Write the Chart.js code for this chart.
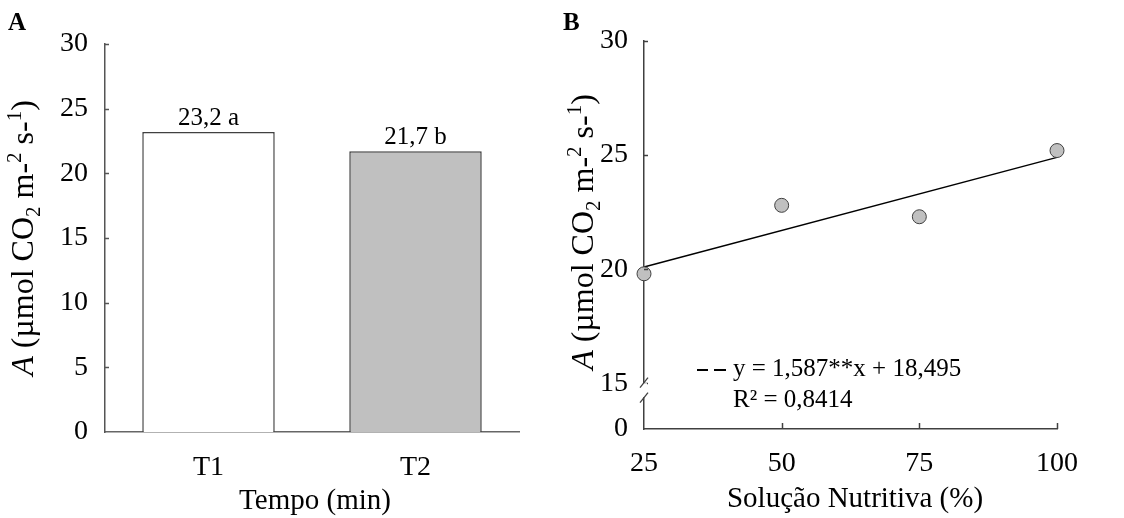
<!DOCTYPE html>
<html>
<head>
<meta charset="utf-8">
<script src="https://cdn.jsdelivr.net/npm/chart.js@4.4.1/dist/chart.umd.min.js"></script>
<style>
  html, body { margin: 0; padding: 0; background: #fff; }
  #wrap { position: relative; width: 1124px; height: 518px; overflow: hidden; }
  .box { position: absolute; top: 0; }
  #boxA { left: 0; }
  #boxB { left: 560px; }
</style>
</head>
<body>
<div id="wrap">
  <div class="box" id="boxA"><canvas id="chartA" width="560" height="518"></canvas></div>
  <div class="box" id="boxB"><canvas id="chartB" width="564" height="518"></canvas></div>
</div>
<script>
// Painel A - tempo
const tempoLabels = ['T1', 'T2'];
const tempoValues = [23.2, 21.7];
const tempoLetters = ['a', 'b'];
const yTicksA = [0, 5, 10, 15, 20, 25, 30];

// Painel B - solução nutritiva
const solucaoX = [25, 50, 75, 100];
const solucaoY = [19.8, 22.8, 22.3, 25.2];
const trendX = [25, 100];
const trendY = [20.1, 24.9];
const xTicksB = [25, 50, 75, 100];
const yTicksB = [13, 15, 20, 25, 30];
const yTickLabelsB = ['0', '15', '20', '25', '30'];
const equationText = 'y = 1,587**x + 18,495';
const r2Text = 'R² = 0,8414';

const serif = "'Liberation Serif', 'Times New Roman', serif";
Chart.defaults.font.family = serif;
Chart.defaults.color = '#000';

function formatNumber(num) {
  return num.toFixed(1).replace('.', ',');
}

// título do eixo y com itálico, subscrito e sobrescrito
function drawYTitle(ctx, baseX, centerY, size) {
  const parts = [
    { t: 'A', italic: true },
    { t: ' (µmol CO' },
    { t: '2', sub: true },
    { t: ' m-' },
    { t: '2', sup: true },
    { t: ' s-' },
    { t: '1', sup: true },
    { t: ')' }
  ];
  const fontFor = p => {
    const s = (p.sub || p.sup) ? Math.round(size * 0.65) : size;
    return (p.italic ? 'italic ' : '') + s + 'px ' + serif;
  };
  let total = 0;
  parts.forEach(p => { ctx.font = fontFor(p); p.w = ctx.measureText(p.t).width; total += p.w; });
  ctx.save();
  ctx.translate(baseX, centerY);
  ctx.rotate(-Math.PI / 2);
  ctx.fillStyle = '#000';
  ctx.textBaseline = 'alphabetic';
  ctx.textAlign = 'left';
  let x = -total / 2;
  parts.forEach(p => {
    ctx.font = fontFor(p);
    let dy = 0;
    if (p.sub) dy = size * 0.22;
    if (p.sup) dy = -size * 0.38;
    ctx.fillText(p.t, x, dy);
    x += p.w;
  });
  ctx.restore();
}

const panelA = {
  id: 'panelA',
  afterDraw(chart) {
    const ctx = chart.ctx;
    const area = chart.chartArea;
    const y = chart.scales.y;
    ctx.save();
    // marcas dos ticks para dentro
    ctx.strokeStyle = '#555';
    ctx.lineWidth = 1.5;
    yTicksA.forEach(v => {
      if (v === 0) return;
      const py = Math.round(y.getPixelForValue(v)) + 0.5;
      ctx.beginPath();
      ctx.moveTo(area.left, py);
      ctx.lineTo(area.left + 4, py);
      ctx.stroke();
    });
    // rótulos das barras
    const meta = chart.getDatasetMeta(0);
    ctx.fillStyle = '#000';
    ctx.font = '25px ' + serif;
    ctx.textAlign = 'center';
    ctx.textBaseline = 'alphabetic';
    meta.data.forEach((bar, i) => {
      ctx.fillText(formatNumber(tempoValues[i]) + ' ' + tempoLetters[i], bar.x, bar.y - 7);
    });
    // título do eixo x
    ctx.font = '29px ' + serif;
    ctx.fillText('Tempo (min)', 315, 509);
    // letra do painel
    ctx.font = 'bold 25px ' + serif;
    ctx.textAlign = 'left';
    ctx.fillText('A', 8, 30);
    ctx.restore();
    drawYTitle(ctx, 33, 238, 32);
  }
};

const panelB = {
  id: 'panelB',
  afterDraw(chart) {
    const ctx = chart.ctx;
    const area = chart.chartArea;
    const x = chart.scales.x;
    const y = chart.scales.y;
    ctx.save();
    ctx.strokeStyle = '#404040';
    ctx.lineWidth = 1.5;
    // ticks para dentro
    yTicksB.forEach(v => {
      if (v === yTicksB[0]) return;
      const py = Math.round(y.getPixelForValue(v)) + 0.5;
      ctx.beginPath();
      ctx.moveTo(area.left, py);
      ctx.lineTo(area.left + 4, py);
      ctx.stroke();
    });
    xTicksB.forEach(v => {
      if (v === xTicksB[0]) return;
      const px = Math.round(x.getPixelForValue(v)) + 0.5;
      ctx.beginPath();
      ctx.moveTo(px, area.bottom);
      ctx.lineTo(px, area.bottom - 6);
      ctx.stroke();
    });
    // quebra do eixo y
    const breakY = y.getPixelForValue(14.7);
    ctx.fillStyle = '#fff';
    ctx.fillRect(area.left - 3, breakY - 7, 6, 14);
    ctx.lineWidth = 1.3;
    [-7.5, 7.5].forEach(off => {
      ctx.beginPath();
      ctx.moveTo(area.left - 4, breakY + off + 5);
      ctx.lineTo(area.left + 4, breakY + off - 5);
      ctx.stroke();
    });
    // legenda da regressão
    ctx.lineWidth = 2;
    ctx.strokeStyle = '#000';
    [[137, 148], [154, 166]].forEach(seg => {
      ctx.beginPath();
      ctx.moveTo(seg[0], 370);
      ctx.lineTo(seg[1], 370);
      ctx.stroke();
    });
    ctx.fillStyle = '#000';
    ctx.font = '25px ' + serif;
    ctx.textAlign = 'left';
    ctx.textBaseline = 'alphabetic';
    ctx.fillText(equationText, 173, 376);
    ctx.fillText(r2Text, 173, 407);
    // título do eixo x
    ctx.font = '29px ' + serif;
    ctx.textAlign = 'center';
    ctx.fillText('Solução Nutritiva (%)', 295, 507);
    // letra do painel
    ctx.font = 'bold 25px ' + serif;
    ctx.textAlign = 'left';
    ctx.fillText('B', 3, 30);
    ctx.restore();
    drawYTitle(ctx, 33, 232, 32);
  }
};

new Chart(document.getElementById('chartA'), {
  type: 'bar',
  data: {
    labels: tempoLabels,
    datasets: [{
      data: tempoValues,
      backgroundColor: ['#ffffff', '#c0c0c0'],
      borderColor: '#404040',
      borderWidth: 1.5,
      barPercentage: 0.64,
      categoryPercentage: 1
    }]
  },
  options: {
    responsive: false,
    animation: false,
    layout: { padding: { top: 44, right: 41, left: 0, bottom: 0 } },
    plugins: { legend: { display: false }, tooltip: { enabled: false } },
    scales: {
      x: {
        grid: { display: false, drawTicks: false },
        border: { color: '#666', width: 1.5 },
        ticks: { font: { size: 28 }, padding: 19, color: '#000' },
        afterFit: s => { s.height = 86; }
      },
      y: {
        min: 0,
        max: 30,
        afterBuildTicks: s => { s.ticks = yTicksA.map(v => ({ value: v })); },
        grid: { display: false, drawTicks: false },
        border: { color: '#555', width: 1.5 },
        ticks: { font: { size: 28 }, padding: 17, color: '#000' },
        afterFit: s => { s.width = 105; }
      }
    }
  },
  plugins: [panelA]
});

new Chart(document.getElementById('chartB'), {
  type: 'scatter',
  data: {
    datasets: [{
      data: solucaoX.map((v, i) => ({ x: v, y: solucaoY[i] })),
      pointRadius: 7,
      pointBackgroundColor: '#c0c0c0',
      pointBorderColor: '#404040',
      pointBorderWidth: 1,
      clip: false,
      order: 0
    }, {
      data: trendX.map((v, i) => ({ x: v, y: trendY[i] })),
      showLine: true,
      borderColor: '#000',
      borderWidth: 1.5,
      pointRadius: 0,
      clip: false,
      order: 1
    }]
  },
  options: {
    responsive: false,
    animation: false,
    layout: { padding: { top: 41, right: 67, left: 0, bottom: 0 } },
    plugins: { legend: { display: false }, tooltip: { enabled: false } },
    scales: {
      x: {
        type: 'linear',
        min: 25,
        max: 100,
        afterBuildTicks: s => { s.ticks = xTicksB.map(v => ({ value: v })); },
        grid: { display: false, drawTicks: false },
        border: { color: '#404040', width: 1.5 },
        ticks: { font: { size: 28 }, padding: 18, color: '#000' },
        afterFit: s => { s.height = 89; }
      },
      y: {
        min: 13,
        max: 30,
        afterBuildTicks: s => { s.ticks = yTicksB.map(v => ({ value: v })); },
        grid: { display: false, drawTicks: false },
        border: { color: '#404040', width: 1.5 },
        ticks: {
          font: { size: 28 },
          padding: 16,
          color: '#000',
          callback: v => yTickLabelsB[yTicksB.indexOf(v)]
        },
        afterFit: s => { s.width = 84; }
      }
    }
  },
  plugins: [panelB]
});
</script>
</body>
</html>
